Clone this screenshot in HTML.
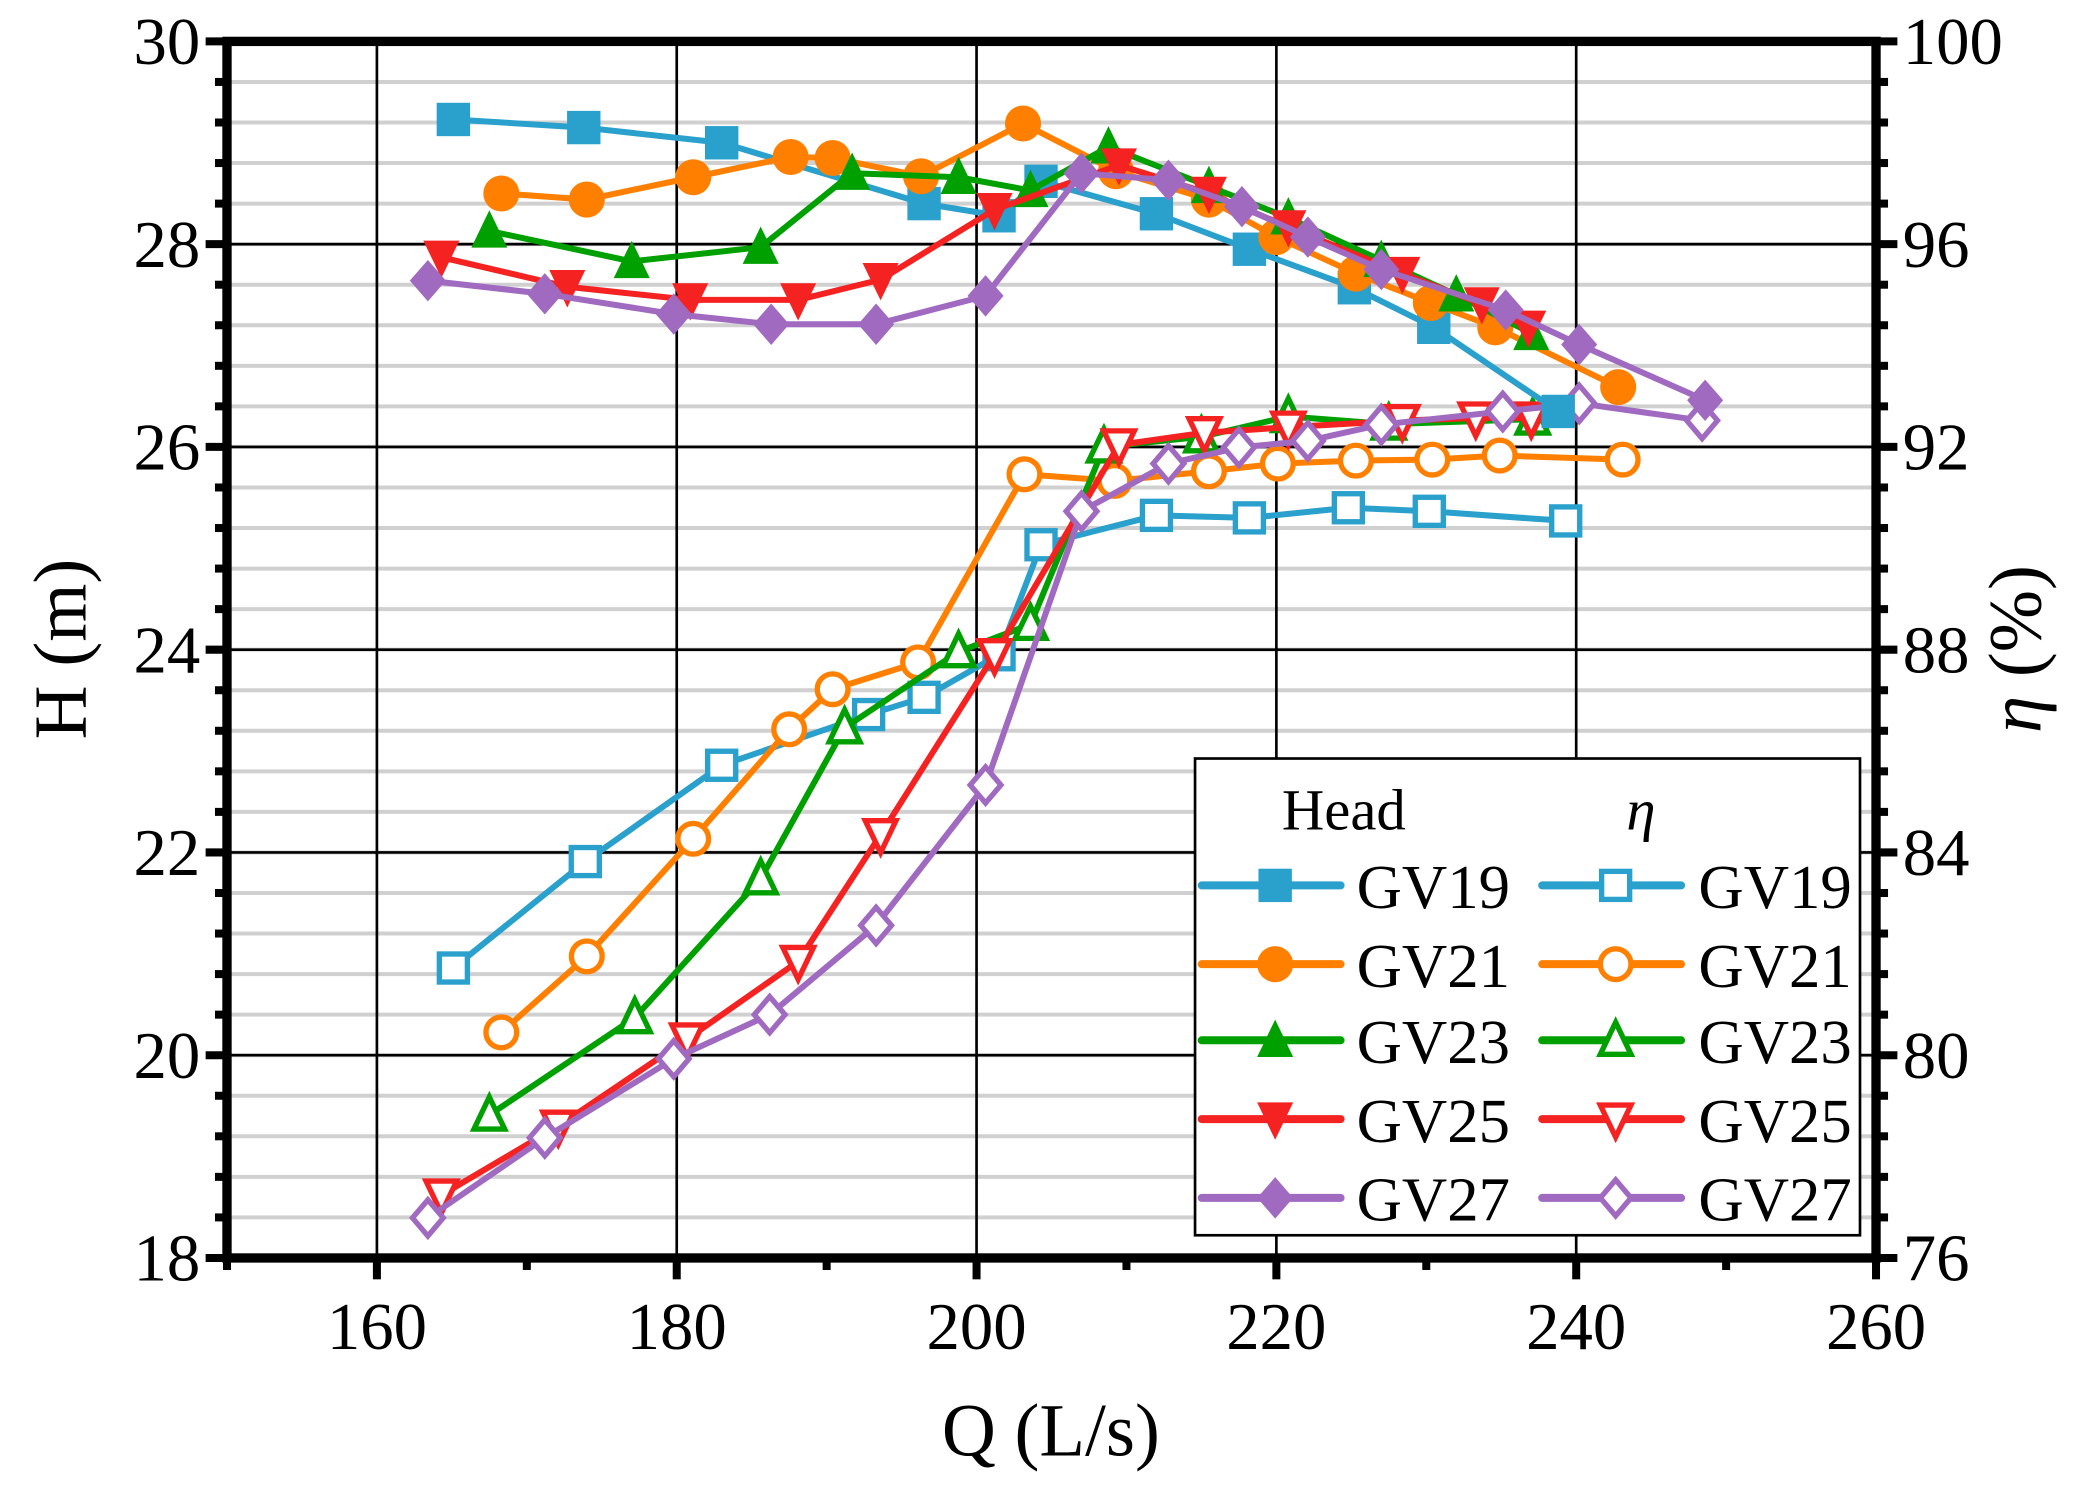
<!DOCTYPE html>
<html><head><meta charset="utf-8"><style>
html,body{margin:0;padding:0;background:#fff;}
svg{display:block;font-family:"Liberation Serif",serif;}
</style></head><body>
<svg id="chart" width="2091" height="1493" viewBox="0 0 1566 1118" preserveAspectRatio="none" xmlns="http://www.w3.org/2000/svg">
<g id="grid"></g>
<g id="series"></g>
<g id="axes"></g>
<text x="787" y="1090" font-size="56" text-anchor="middle">Q (L/s)</text>
<text transform="translate(64,486) rotate(-90)" font-size="56" text-anchor="middle">H (m)</text>
<text transform="translate(1528,486) rotate(-90)" font-size="56" text-anchor="middle"><tspan font-style="italic">η</tspan> (%)</text>
<g id="legend"></g>
</svg>
<script>
const xTicks=[160,180,200,220,240,260];
const hTicks=[18,20,22,24,26,28,30];
const eTicks=[76,80,84,88,92,96,100];
const names=['GV19','GV21','GV23','GV25','GV27'];
const colors=['#2aa0cc','#ff8000','#00a000','#f52222','#a06ac0'];
const shapes=['square','circle','up','down','diamond'];
const headQ19=[165.1,173.8,183.0,196.5,201.5,204.3,212.0,218.2,225.2,230.5,238.8];
const headH19=[29.23,29.15,29.0,28.4,28.28,28.62,28.3,27.95,27.57,27.18,26.35];
const headQ21=[168.3,174.0,181.1,187.6,190.4,196.3,203.1,209.3,215.5,220.0,225.3,230.3,234.6,242.8];
const headH21=[28.5,28.44,28.66,28.86,28.85,28.67,29.19,28.72,28.44,28.07,27.71,27.42,27.18,26.59];
const headQ23=[167.5,177.0,185.6,191.7,198.8,203.6,208.8,215.5,220.8,227.0,232.0,237.0];
const headH23=[28.13,27.83,27.97,28.7,28.66,28.53,28.96,28.57,28.26,27.84,27.5,27.12];
const headQ25=[164.3,172.7,180.9,188.1,193.6,201.2,209.5,215.5,220.8,228.4,233.7,236.8];
const headH25=[27.87,27.58,27.45,27.45,27.65,28.34,28.78,28.5,28.17,27.71,27.41,27.18];
const headQ27=[163.4,171.2,179.8,186.3,193.3,200.6,207.0,212.8,217.7,222.1,227.0,235.3,240.2,248.6];
const headH27=[27.64,27.51,27.31,27.21,27.21,27.49,28.7,28.63,28.37,28.07,27.75,27.35,27.01,26.46];
const effQ19=[165.1,173.9,183.0,192.8,196.5,201.5,204.3,212.0,218.2,224.8,230.2,239.3];
const effE19=[81.72,83.82,85.72,86.72,87.06,87.9,90.07,90.65,90.6,90.8,90.73,90.54];
const effQ21=[168.3,174.0,181.1,187.5,190.4,196.1,203.2,209.2,215.5,220.1,225.3,230.4,234.9,243.1];
const effE21=[80.45,81.95,84.27,86.43,87.22,87.75,91.46,91.33,91.52,91.67,91.73,91.75,91.83,91.75];
const effQ23=[167.5,177.2,185.6,191.2,198.8,203.6,208.5,215.0,220.8,227.5,237.1];
const effE23=[78.82,80.74,83.48,86.46,87.96,88.5,92.0,92.2,92.6,92.45,92.55];
const effQ25=[164.3,172.1,180.7,188.1,193.6,201.2,209.5,215.2,220.8,228.4,233.3,237.0];
const effE25=[77.24,78.6,80.32,81.85,84.35,87.9,92.04,92.28,92.39,92.52,92.57,92.57];
const effQ27=[163.4,171.2,179.8,186.2,193.3,200.6,207.0,212.8,217.5,222.1,227.0,235.1,240.2,248.4];
const effE27=[76.79,78.37,79.93,80.8,82.56,85.33,90.73,91.67,91.99,92.12,92.44,92.7,92.86,92.52];

const X0=170,X1=1405,Y0=942,Y1=31;
const xs=q=>X0+(q-150)/110*(X1-X0);
const yh=h=>Y0-(h-18)/12*(Y0-Y1);
const ye=e=>Y0-(e-76)/24*(Y0-Y1);
const NS='http://www.w3.org/2000/svg';
function mk(tag,attrs,parent){const e=document.createElementNS(NS,tag);for(const k in attrs)e.setAttribute(k,attrs[k]);parent.appendChild(e);return e;}
const grid=document.getElementById('grid'),axes=document.getElementById('axes'),ser=document.getElementById('series'),leg=document.getElementById('legend');

for(let h=18;h<=30.001;h+=0.4){
  const y=yh(h);
  const l=mk('line',{x1:X0,x2:X1,y1:y,y2:y,stroke:'#d0d0d0','stroke-width':3},grid);
  
  
}
hTicks.forEach(h=>{const y=yh(h);const l=mk('line',{x1:X0,x2:X1,y1:y,y2:y,stroke:'#000','stroke-width':2},grid);
  
  });
xTicks.forEach(q=>{const x=xs(q);const l=mk('line',{x1:x,x2:x,y1:Y1,y2:Y0,stroke:'#000','stroke-width':2},grid);
  
  });

const fr=mk('rect',{x:X0,y:Y1,width:X1-X0,height:Y0-Y1,fill:'none',stroke:'#000','stroke-width':7},axes);


for(let q=150;q<=260;q+=10){const x=xs(q);const major=(q%20===0);
  const t=mk('line',{x1:x,x2:x,y1:Y0,y2:Y0+(major?16:9),stroke:'#000','stroke-width':6},axes);
  
  }
xTicks.forEach(q=>{const t=mk('text',{x:xs(q),y:Y0+68,'font-size':50,'text-anchor':'middle'},axes);t.textContent=q;
  
  });
for(let h=18;h<=30.001;h+=0.4){const y=yh(h);const major=Math.abs((h-18)/2-Math.round((h-18)/2))<0.01;
  const t=mk('line',{x1:X0-(major?16:9),x2:X0,y1:y,y2:y,stroke:'#000','stroke-width':6},axes);
  
  
  const t2=mk('line',{x1:X1,x2:X1+(major?16:9),y1:y,y2:y,stroke:'#000','stroke-width':6},axes);
  
  }
hTicks.forEach(h=>{const t=mk('text',{x:X0-20,y:yh(h)+17,'font-size':50,'text-anchor':'end'},axes);t.textContent=h;
  
  });
eTicks.forEach(e=>{const t=mk('text',{x:X1+20,y:ye(e)+17,'font-size':50,'text-anchor':'start'},axes);t.textContent=e;
  
  });

function marker(parent,shape,x,y,c,filled,name){
  const s=12.5;const fill=filled?c:'#fff';const sw=filled?0:4;let el;
  const r=filled?s:s-2;
  if(shape==='square')el=mk('rect',{x:x-r,y:y-r,width:2*r,height:2*r},parent);
  else if(shape==='circle')el=mk('circle',{cx:x,cy:y,r:r+1},parent);
  else if(shape==='up')el=mk('polygon',{points:`${x},${y-r-3} ${x+r+1},${y+r} ${x-r-1},${y+r}`},parent);
  else if(shape==='down')el=mk('polygon',{points:`${x},${y+r+3} ${x+r+1},${y-r} ${x-r-1},${y-r}`},parent);
  else el=mk('polygon',{points:`${x},${y-r-3} ${x+r+1},${y} ${x},${y+r+3} ${x-r-1},${y}`},parent);
  el.setAttribute('fill',fill);el.setAttribute('stroke',c);el.setAttribute('stroke-width',sw);
  
  
}
const heads=[[headQ19,headH19],[headQ21,headH21],[headQ23,headH23],[headQ25,headH25],[headQ27,headH27]];
const effs=[[effQ19,effE19],[effQ21,effE21],[effQ23,effE23],[effQ25,effE25],[effQ27,effE27]];
function drawSeries(Q,V,yf,i,filled,kind){
  const g=mk('g',{},ser);
  
  
  const pts=Q.map((q,k)=>xs(q)+','+yf(V[k])).join(' ');
  const pl=mk('polyline',{points:pts,fill:'none',stroke:colors[i],'stroke-width':4.5,'stroke-linejoin':'round'},g);
  
  
  Q.forEach((q,k)=>marker(g,shapes[i],xs(q),yf(V[k]),colors[i],filled,kind+'-point'));
}
for(let i=0;i<5;i++)drawSeries(effs[i][0],effs[i][1],ye,i,false,'efficiency');
for(let i=0;i<5;i++)drawSeries(heads[i][0],heads[i][1],yh,i,true,'head');

const lb=mk('rect',{x:895,y:568,width:498,height:357,fill:'#fff',stroke:'#000','stroke-width':2},leg);


const h1=mk('text',{x:960,y:621,'font-size':44},leg);h1.textContent='Head';


const h2=mk('text',{x:1218,y:621,'font-size':44,'font-style':'italic'},leg);h2.textContent='η';


const rowsY=[663,722,779,838,897];
for(let i=0;i<5;i++){
  [[900,955,1016,true],[1155,1210,1272,false]].forEach(([lx,mx,tx,f])=>{
    const g=mk('g',{},leg);
    
    
    const y=rowsY[i];
    mk('line',{x1:lx,x2:lx+104,y1:y,y2:y,stroke:colors[i],'stroke-width':6,'stroke-linecap':'round'},g);
    marker(g,shapes[i],mx,y,colors[i],f,'legend-marker');
    const t=mk('text',{x:tx,y:y+17,'font-size':47},g);t.textContent=names[i];
    
    
  });
}
</script>
</body></html>
